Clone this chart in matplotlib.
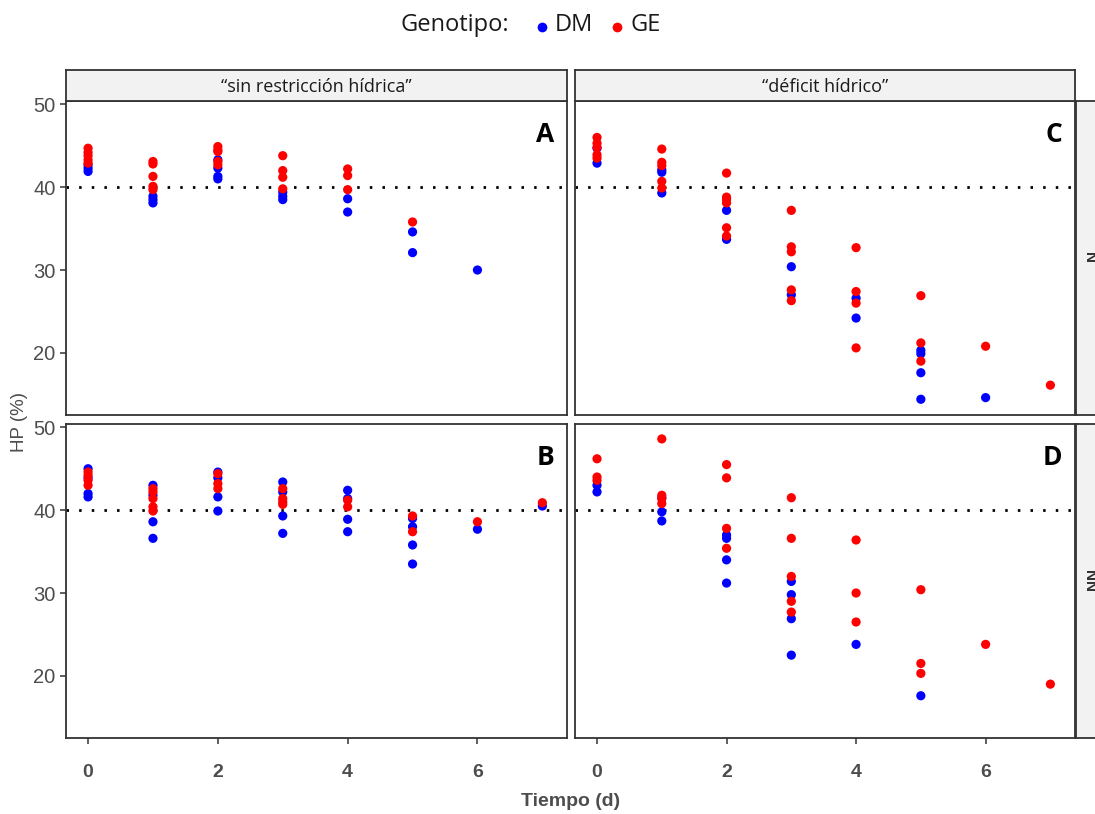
import matplotlib
matplotlib.use("Agg")
import matplotlib.pyplot as plt
import numpy as np

W, H = 1095, 814
fig = plt.figure(figsize=(W/100, H/100), dpi=100)

# ---- data (Tiempo d -> HP %) ----
# Panel A: sin restricción hídrica, N
A_DM_x = [0, 0, 0, 1, 1, 1, 2, 2, 2, 2, 3, 3, 3, 4, 4, 5, 5, 6]
A_DM_y = [42.7, 42.3, 41.9, 38.9, 38.5, 38.1, 43.3, 42.3, 41.3, 41.0, 39.4, 38.9, 38.5, 38.6, 37.0, 34.6, 32.1, 30.0]
A_GE_x = [0, 0, 0, 0, 0, 1, 1, 1, 1, 1, 2, 2, 2, 2, 2, 3, 3, 3, 3, 4, 4, 4, 5]
A_GE_y = [44.7, 44.2, 43.8, 43.3, 42.9, 43.1, 42.8, 41.3, 40.1, 39.7, 44.9, 44.5, 44.3, 43.1, 42.7, 43.8, 42.0, 41.2, 39.8, 42.2, 41.4, 39.7, 35.8]

# Panel C: déficit hídrico, N
C_DM_x = [0, 0, 1, 1, 1, 2, 2, 3, 3, 4, 4, 5, 5, 5, 5, 6]
C_DM_y = [44.7, 42.9, 42.1, 41.8, 39.3, 37.2, 33.7, 30.4, 27.0, 26.6, 24.2, 20.3, 19.9, 17.6, 14.4, 14.6]
C_GE_x = [0, 0, 0, 0, 0, 1, 1, 1, 1, 1, 2, 2, 2, 2, 2, 2, 3, 3, 3, 3, 3, 4, 4, 4, 4, 5, 5, 5, 6, 7]
C_GE_y = [46.0, 45.3, 44.8, 43.9, 43.5, 44.6, 43.0, 42.6, 40.7, 39.9, 41.7, 38.8, 38.5, 38.1, 35.1, 34.1,
          37.2, 32.8, 32.2, 27.6, 26.3, 32.7, 27.4, 26.0, 20.6, 26.9, 21.2, 19.0, 20.8, 16.1]

# Panel B: sin restricción hídrica, NN
B_DM_x = [0, 0, 0, 0, 1, 1, 1, 1, 2, 2, 2, 2, 3, 3, 3, 3, 4, 4, 4, 4, 5, 5, 5, 5, 6, 7]
B_DM_y = [45.0, 43.9, 42.0, 41.6, 43.0, 41.8, 38.6, 36.6, 44.6, 43.9, 41.6, 39.9, 43.4, 42.2, 39.3, 37.2,
          42.4, 41.4, 38.9, 37.4, 39.0, 38.0, 35.8, 33.5, 37.7, 40.5]
B_GE_x = [0, 0, 0, 0, 1, 1, 1, 1, 1, 2, 2, 2, 3, 3, 3, 3, 4, 4, 5, 5, 6, 7]
B_GE_y = [44.6, 44.2, 43.6, 43.0, 42.6, 42.2, 41.4, 40.4, 39.9, 44.4, 43.2, 42.6, 42.6, 41.4, 41.0, 40.7,
          41.2, 40.4, 39.3, 37.4, 38.6, 40.9]

# Panel D: déficit hídrico, NN
D_DM_x = [0, 0, 1, 1, 1, 2, 2, 2, 2, 3, 3, 3, 3, 4, 5]
D_DM_y = [43.0, 42.2, 41.5, 39.8, 38.7, 37.0, 36.6, 34.0, 31.2, 31.4, 29.8, 26.9, 22.5, 23.8, 17.6]
D_GE_x = [0, 0, 0, 1, 1, 1, 1, 2, 2, 2, 2, 3, 3, 3, 3, 3, 4, 4, 4, 5, 5, 5, 6, 7]
D_GE_y = [46.2, 44.0, 43.6, 48.6, 41.8, 41.4, 40.8, 45.5, 43.9, 37.8, 35.4, 41.5, 36.6, 32.0, 29.0, 27.7,
          36.4, 30.0, 26.5, 30.4, 21.5, 20.3, 23.8, 19.0]

col_labels = ["\u201csin restricción hídrica\u201d", "\u201cdéficit hídrico\u201d"]
row_labels = ["N", "NN"]
panel_letters = [["A", "C"], ["B", "D"]]
threshold = 40
x_ticks = [0, 2, 4, 6]
y_ticks = [20, 30, 40, 50]
genotypes = ["DM", "GE"]
colors = {"DM": "#0000FF", "GE": "#FF0000"}

data = {
    (0, 0): (A_DM_x, A_DM_y, A_GE_x, A_GE_y),
    (0, 1): (C_DM_x, C_DM_y, C_GE_x, C_GE_y),
    (1, 0): (B_DM_x, B_DM_y, B_GE_x, B_GE_y),
    (1, 1): (D_DM_x, D_DM_y, D_GE_x, D_GE_y),
}

# ---- layout in pixels ----
cols_px = [(66, 567), (575, 1075)]
rows_px = [(101, 415), (424, 738)]
strip_top = (70, 101)
strip_right = (1076, 1102)

def fx(px):
    return px / W

def fy(py):
    return 1 - py / H

tick_gray = "#4D4D4D"
frame_col = "#333333"
strip_bg = "#F2F2F2"

for r in range(2):
    for c in range(2):
        x0, x1 = cols_px[c]
        y0, y1 = rows_px[r]
        ax = fig.add_axes([fx(x0), fy(y1), fx(x1 - x0), (y1 - y0) / H])
        dmx, dmy, gex, gey = data[(r, c)]
        ax.axhline(threshold, color="black", lw=2.0, linestyle=(0, (0.9, 3.65)), zorder=1)
        ax.scatter(dmx, dmy, s=44, color=colors["DM"], edgecolors="none", zorder=2)
        ax.scatter(gex, gey, s=44, color=colors["GE"], edgecolors="none", zorder=3)
        ax.set_xlim(-0.34, 7.38)
        ax.set_ylim(12.5, 50.4)
        ax.set_xticks(x_ticks)
        ax.set_yticks(y_ticks)
        for sp in ax.spines.values():
            sp.set_color(frame_col)
            sp.set_linewidth(1.3)
        ax.tick_params(axis="both", direction="out", length=4, width=1.1, color=frame_col)
        if c == 0:
            ax.set_yticklabels([str(t) for t in y_ticks], fontsize=14.5, color=tick_gray,
                               family="Liberation Sans")
        else:
            ax.tick_params(axis="y", left=False, labelleft=False)
        if r == 1:
            ax.set_xticklabels([str(t) for t in x_ticks], fontsize=14, color=tick_gray,
                               family="Liberation Sans", fontweight="bold")
            ax.tick_params(axis="x", pad=15)
        else:
            ax.tick_params(axis="x", bottom=False, labelbottom=False)
        ax.text(0.975, 0.935, panel_letters[r][c], transform=ax.transAxes, ha="right", va="top",
                fontsize=19, fontweight="bold", family="Open Sans", color="black")

# top strips
for c in range(2):
    x0, x1 = cols_px[c]
    sa = fig.add_axes([fx(x0), fy(strip_top[1]), fx(x1 - x0), (strip_top[1] - strip_top[0]) / H])
    sa.set_facecolor(strip_bg)
    sa.set_xticks([]); sa.set_yticks([])
    for sp in sa.spines.values():
        sp.set_color(frame_col); sp.set_linewidth(1.3)
    sa.text(0.5, 0.45, col_labels[c], transform=sa.transAxes, ha="center", va="center",
            fontsize=13, family="Open Sans", color="#1A1A1A")

# right strips (partially cut by the figure edge)
for r in range(2):
    y0, y1 = rows_px[r]
    sa = fig.add_axes([fx(strip_right[0]), fy(y1), fx(strip_right[1] - strip_right[0]), (y1 - y0) / H])
    sa.set_facecolor(strip_bg)
    sa.set_xticks([]); sa.set_yticks([])
    for sp in sa.spines.values():
        sp.set_color(frame_col); sp.set_linewidth(1.3)
    sa.text(0.5, 0.5, row_labels[r], transform=sa.transAxes, ha="center", va="center",
            rotation=-90, fontsize=11, family="Liberation Sans", color="#333333", fontweight="bold")

# axis titles
fig.text(fx(571), fy(802), "Tiempo (d)", ha="center", va="center", fontsize=14,
         fontweight="bold", color=tick_gray, family="Liberation Sans")
fig.text(fx(20), fy(422), "HP (%)", ha="center", va="center", rotation=90, fontsize=13.5,
         color=tick_gray, family="Liberation Sans")

# legend
fig.text(fx(400), fy(25), "Genotipo:", ha="left", va="center", fontsize=17,
         family="Open Sans", color="#1A1A1A")
leg_items = [(542, 555, "DM"), (617, 631, "GE")]
for (mx, tx, lab) in leg_items:
    fig.add_artist(matplotlib.lines.Line2D([fx(mx)], [fy(27)], marker="o", markersize=7,
                                           color=colors[lab], markeredgewidth=0, linestyle="none"))
    fig.text(fx(tx), fy(25), lab, ha="left", va="center", fontsize=17, family="Open Sans",
             color="#1A1A1A")

fig.savefig("out.png", dpi=100)
